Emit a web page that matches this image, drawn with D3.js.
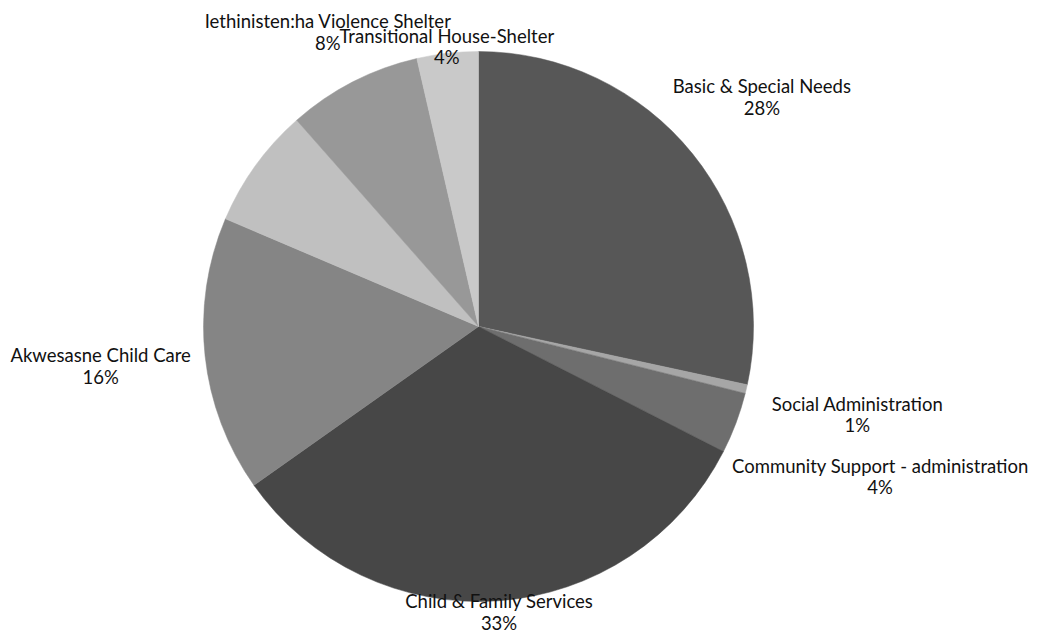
<!DOCTYPE html>
<html>
<head>
<meta charset="utf-8">
<script src="https://cdn.jsdelivr.net/npm/d3@7"></script>
<style>
  html, body { margin: 0; padding: 0; background: #ffffff; }
  svg text { font-family: Lato, "Noto Sans", sans-serif; fill: #111111; }
</style>
</head>
<body>
<svg id="chart" width="1037" height="630"></svg>
<script>
// Budget shares by program (percent of total), clockwise from 12 o'clock
const categories = [
  "Basic & Special Needs",
  "Social Administration",
  "Community Support - administration",
  "Child & Family Services",
  "Akwesasne Child Care",
  "Other Programs",
  "Iethinisten:ha Violence Shelter",
  "Transitional House-Shelter"
];
const shares = [28.4, 0.52, 3.6, 32.7, 16.2, 7.1, 7.9, 3.6];
// which slices carry a data label
const showLabel = [true, true, true, true, true, false, true, true];
const sliceColors = ["#575757", "#a6a6a6", "#6e6e6e", "#474747", "#858585", "#c0c0c0", "#989898", "#c9c9c9"];

// Layout: distance of each label block's centre from the pie centre
const labelRadius = [364, 389, 429, 287, 380, 0, 330, 281];

const cx = 478.5, cy = 326.5, R = 275;

const svg = d3.select("#chart");
const g = svg.append("g").attr("transform", `translate(${cx},${cy})`);

const data = categories.map((c, i) => ({ name: c, value: shares[i], idx: i }));
const total = d3.sum(shares);

const pie = d3.pie().value(d => d.value).sort(null);
const arc = d3.arc().innerRadius(0).outerRadius(R);
const arcs = pie(data);

g.selectAll("path.slice")
  .data(arcs)
  .join("path")
  .attr("class", "slice")
  .attr("d", arc)
  .attr("fill", d => sliceColors[d.data.idx])
  .attr("stroke", d => sliceColors[d.data.idx])
  .attr("stroke-width", 0.5);

const pct = v => Math.round(v * 100) + "%";
const fontSize = 18.5;

const labels = g.selectAll("g.label")
  .data(arcs.filter(d => showLabel[d.data.idx]))
  .join("g")
  .attr("class", "label")
  .attr("transform", d => {
    const a = (d.startAngle + d.endAngle) / 2;
    const r = labelRadius[d.data.idx];
    return `translate(${r * Math.sin(a)},${-r * Math.cos(a)})`;
  });

labels.append("text")
  .attr("text-anchor", "middle")
  .attr("font-size", fontSize)
  .attr("y", -4.5)
  .text(d => d.data.name);

labels.append("text")
  .attr("text-anchor", "middle")
  .attr("font-size", fontSize)
  .attr("y", 17.2)
  .text(d => pct(d.data.value / total));
</script>
</body>
</html>
